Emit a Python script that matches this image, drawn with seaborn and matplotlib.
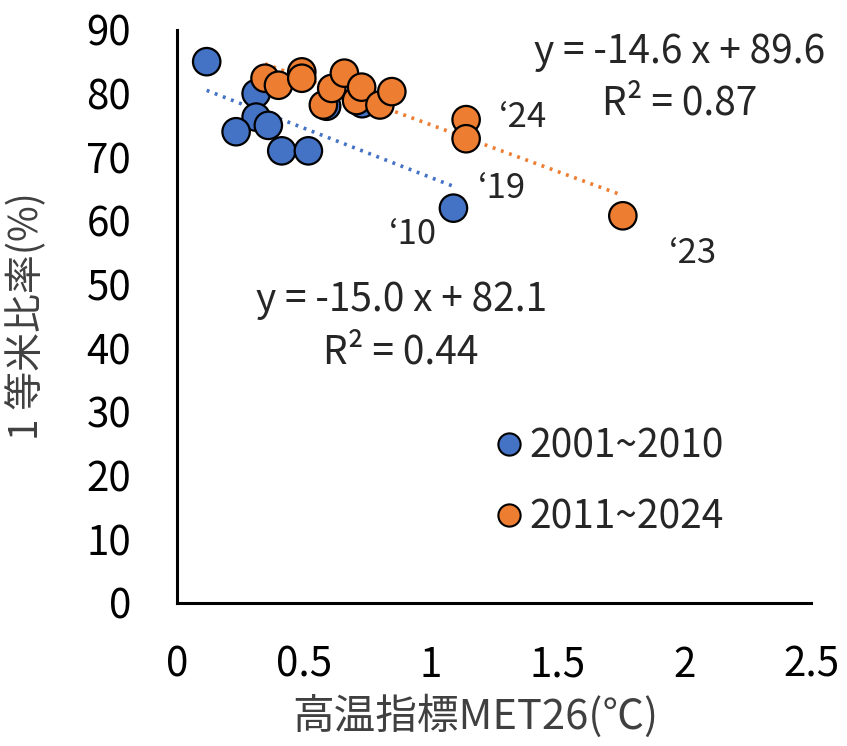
import numpy as np
import pandas as pd
import matplotlib
matplotlib.use("Agg")
import matplotlib.pyplot as plt
from matplotlib.lines import Line2D
import seaborn as sns

# ---- data ----
met_2001_2010 = [0.117, 0.312, 0.312, 0.233, 0.360, 0.413, 0.518, 1.090, 0.590, 0.730]
rate_2001_2010 = [85.0, 80.0, 76.3, 74.0, 75.0, 71.0, 71.0, 62.0, 78.0, 78.4]
met_2011_2024 = [0.347, 0.400, 0.492, 0.492, 0.577, 0.610, 0.660, 0.708, 0.728,
                 0.800, 0.847, 1.140, 1.140, 1.758]
rate_2011_2024 = [82.4, 81.3, 83.4, 82.4, 78.2, 80.8, 83.2, 78.9, 81.0,
                  78.2, 80.3, 75.9, 72.9, 60.8]
groups = ["2001~2010", "2011~2024"]
x_ticks = [0, 0.5, 1, 1.5, 2, 2.5]
x_tick_labels = ["0", "0.5", "1", "1.5", "2", "2.5"]
y_ticks = [0, 10, 20, 30, 40, 50, 60, 70, 80, 90]
eq_lines = ["y = -15.0 x + 82.1", "R² = 0.44", "y = -14.6 x + 89.6", "R² = 0.87"]
year_labels = ["‘10", "‘19", "‘23", "‘24"]

df = pd.DataFrame({
    "met": met_2001_2010 + met_2011_2024,
    "rate": rate_2001_2010 + rate_2011_2024,
    "group": [groups[0]] * len(met_2001_2010) + [groups[1]] * len(met_2011_2024),
})

sns.set_theme(style="white")
plt.rcParams["font.family"] = ["Noto Sans CJK JP", "DejaVu Sans"]

blue = "#4472C4"
orange = "#ED7D31"
palette = {groups[0]: blue, groups[1]: orange}

fig = plt.figure(figsize=(8.47, 7.46), dpi=100)
ax = fig.add_axes([0.209, 0.1917, 0.7485, 0.7683])

# trend lines
for g in groups:
    sub = df[df.group == g]
    sns.regplot(data=sub, x="met", y="rate", scatter=False, ci=None, truncate=True,
                ax=ax, color=palette[g],
                line_kws=dict(linestyle=(0, (0.8, 1.6)), linewidth=2.6, zorder=1))

sns.scatterplot(data=df, x="met", y="rate", hue="group", palette=palette,
                s=390, edgecolor="black", linewidth=1.6, ax=ax, legend=False, zorder=3)

ax.set_xlim(0, 2.5)
ax.set_ylim(0, 90)
ax.set_xticks(x_ticks)
ax.set_xticklabels(x_tick_labels)
ax.set_yticks(y_ticks)
for s in ["top", "right"]:
    ax.spines[s].set_visible(False)
for s in ["left", "bottom"]:
    ax.spines[s].set_color("black")
    ax.spines[s].set_linewidth(2.2)
ax.tick_params(axis="both", direction="in", length=10, width=2.0, colors="black",
               labelsize=29)
ax.tick_params(axis="x", pad=30)
ax.tick_params(axis="y", pad=33)
ax.set_xlabel("高温指標MET26(℃)", fontsize=30, color="#404040")
ax.set_ylabel("1 等米比率(%)", fontsize=28, color="#404040")
ax.xaxis.set_label_coords(0.47, -0.16)
ax.yaxis.set_label_coords(-0.204, 0.5)

# equations
ax.text(0.884, 47.6, eq_lines[0], ha="center", va="center", fontsize=28, clip_on=False)
ax.text(0.884, 39.4, eq_lines[1], ha="center", va="center", fontsize=28, clip_on=False)
ax.text(1.983, 86.5, eq_lines[2], ha="center", va="center", fontsize=28, clip_on=False)
ax.text(1.983, 78.5, eq_lines[3], ha="center", va="center", fontsize=28, clip_on=False)

# year labels
ax.text(0.93, 57.8, year_labels[0], ha="center", va="center", fontsize=25)
ax.text(1.28, 65.1, year_labels[1], ha="center", va="center", fontsize=25)
ax.text(2.035, 54.9, year_labels[2], ha="center", va="center", fontsize=25)
ax.text(1.364, 76.3, year_labels[3], ha="center", va="center", fontsize=25)

# legend
handles = [Line2D([], [], marker="o", linestyle="none", markersize=16,
                  markerfacecolor=palette[g], markeredgecolor="black",
                  markeredgewidth=1.5) for g in groups]
ax.legend(handles, groups, loc="center left", bbox_to_anchor=(0.475, 0.211),
          frameon=False, fontsize=28, handletextpad=0.12, labelspacing=0.78,
          handlelength=0.8, borderaxespad=0)

fig.savefig("out.png", dpi=100)
